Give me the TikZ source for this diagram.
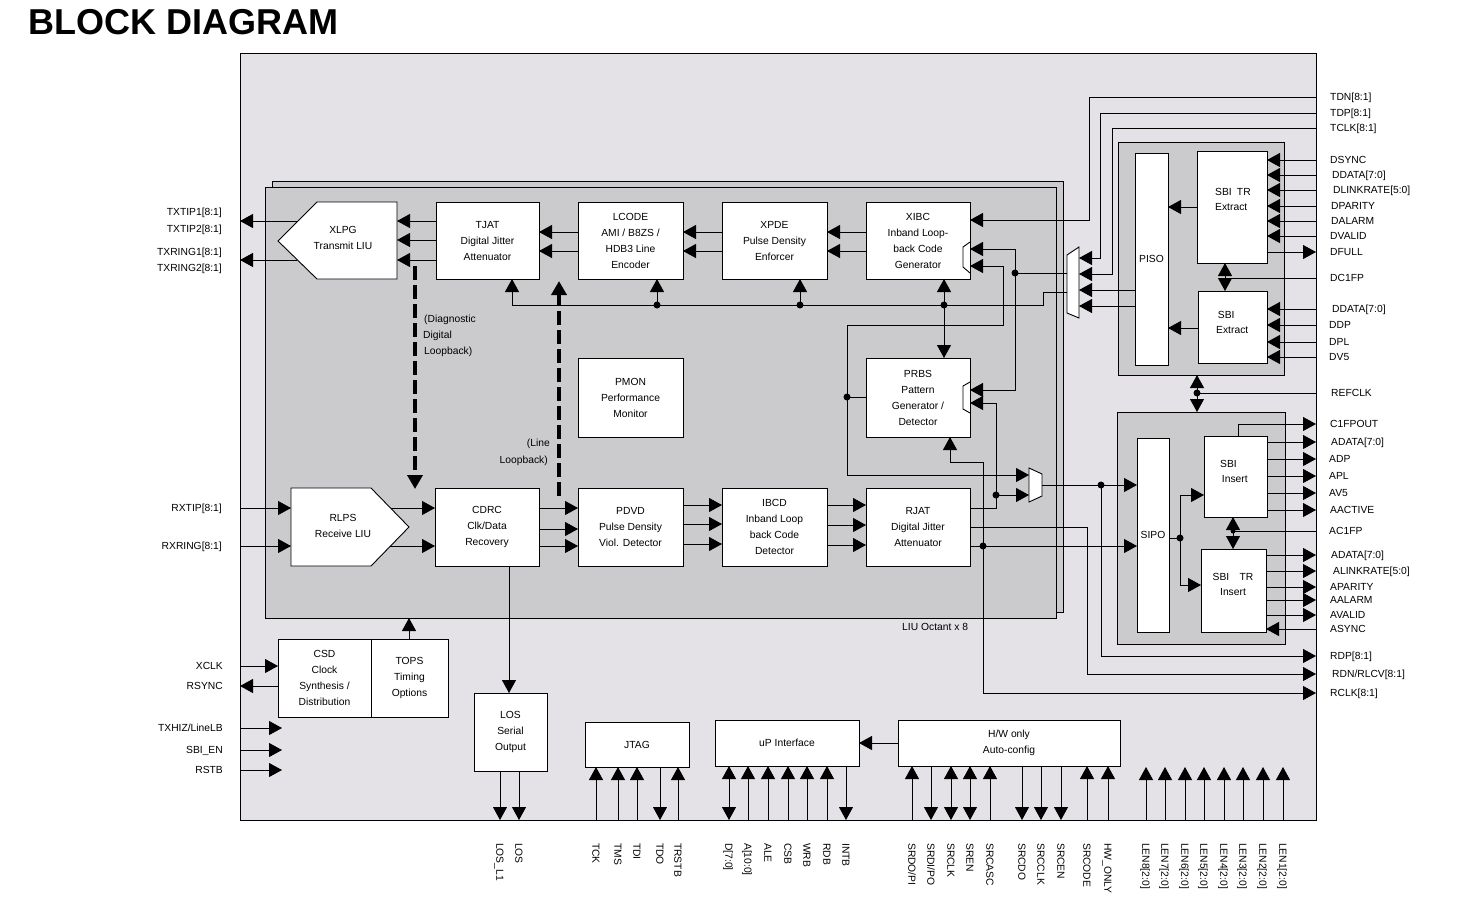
\documentclass[tikz,border=0pt]{standalone}
\usepackage{fontspec}
\setmainfont{Liberation Sans}
\usetikzlibrary{arrows.meta}
\definecolor{chipgray}{RGB}{228,226,230}
\definecolor{octgray}{RGB}{203,203,205}
\newcommand{\blkfont}{\fontsize{10.3}{16}\selectfont}
\newcommand{\sbifont}{\fontsize{10.3}{15}\selectfont}
\tikzset{
  blk/.style={draw, fill=white, line width=0.9pt, inner sep=0pt, outer sep=0pt,
    align=center, font=\blkfont, anchor=north west},
  grp/.style={draw, fill=octgray, line width=0.9pt, inner sep=0pt, outer sep=0pt, anchor=north west},
  pin/.style={font=\blkfont, inner sep=0pt, text height=9.2pt, text depth=2pt},
  lpin/.style={pin, anchor=east},
  rpin/.style={pin, anchor=west},
  bpin/.style={pin, rotate=-90, anchor=west},
  sig/.style={line width=0.9pt},
  arr/.style={sig, -{Triangle[length=13pt,width=14pt]}},
  biarr/.style={sig, {Triangle[length=13pt,width=14pt]}-{Triangle[length=13pt,width=14pt]}},
  lpbk/.style={line width=3.5pt, dash pattern=on 14pt off 5pt, -{Triangle[length=14pt,width=15pt]}},
  dot/.style={circle, fill, inner sep=0pt, minimum size=7pt},
}
\begin{document}
\begin{tikzpicture}[x=1pt, y=-1pt]
      \useasboundingbox (0,0) rectangle (1463,922);
      \node[font=\fontsize{36}{40}\selectfont\bfseries, anchor=west, inner sep=0pt] (title) at (28,22) {BLOCK DIAGRAM};
      %
      \node[grp, fill=chipgray, minimum width=1076pt, minimum height=767pt] (chip) at (240,53) {};   % chip outline
      \node[grp, minimum width=791pt, minimum height=431pt] (octb) at (272,181) {};   % octant stack
      \node[grp, minimum width=791pt, minimum height=431pt] (oct) at (265,187) {};
      \node[pin, anchor=west] (octlbl) at (902,627) {LIU Octant x 8};
      \node[grp, minimum width=166pt, minimum height=233pt] (sbixg) at (1118,142) {};   % SBI extract group
      \node[grp, minimum width=168pt, minimum height=232pt] (sbiig) at (1117,412) {};   % SBI insert group
      %
      % transmit row
      \draw[line width=0.9pt, fill=white] (278,241) -- (317,202) -- (397,202) -- (397,279) -- (317,279) -- cycle;
      \node[align=center, font=\blkfont] (xlpg) at (343,238) {XLPG\\Transmit LIU};
      \coordinate (xlpgE) at (397,240);
      \coordinate (xlpgT) at (298,221);
      \coordinate (xlpgR) at (297,260);
      \node[blk, minimum width=103pt, minimum height=77pt] (tjat) at (436,202) {TJAT\\Digital Jitter\\Attenuator};
      \node[blk, minimum width=105pt, minimum height=77pt] (lcode) at (578,202) {LCODE\\AMI / B8ZS /\\HDB3 Line\\Encoder};
      \node[blk, minimum width=105pt, minimum height=77pt] (xpde) at (722,202) {XPDE\\Pulse Density\\Enforcer};
      \node[blk, minimum width=104pt, minimum height=77pt] (xibc) at (866,202) {XIBC\\Inband Loop-\\back Code\\Generator};
      \node[blk, minimum width=105pt, minimum height=79pt] (pmon) at (578,358) {PMON\\Performance\\Monitor};
      \node[blk, minimum width=104pt, minimum height=79pt] (prbs) at (866,358) {PRBS\\Pattern\\Generator /\\Detector};
      \draw[sig] (970,242) -- (963,247) -- (963,267) -- (970,273);   % input selects
      \draw[sig] (970,382) -- (963,386) -- (963,409) -- (970,413);
      %
      % receive row
      \draw[line width=0.9pt, fill=white] (291,488) -- (371,488) -- (409,527) -- (371,566) -- (291,566) -- cycle;
      \node[align=center, font=\blkfont] (rlps) at (343,526) {RLPS\\Receive LIU};
      \coordinate (rlpsW) at (291,527);
      \coordinate (rlpsT) at (391,508);
      \coordinate (rlpsR) at (390,546);
      \node[blk, minimum width=104pt, minimum height=78pt] (cdrc) at (435,488) {CDRC\\Clk/Data\\Recovery};
      \node[blk, minimum width=105pt, minimum height=78pt] (pdvd) at (578,488) {PDVD\\Pulse Density\\Viol. Detector};
      \node[blk, minimum width=105pt, minimum height=78pt] (ibcd) at (722,488) {IBCD\\Inband Loop\\back Code\\Detector};
      \node[blk, minimum width=104pt, minimum height=78pt] (rjat) at (866,488) {RJAT\\Digital Jitter\\Attenuator};
      %
      % lower blocks
      \node[blk, minimum width=93pt, minimum height=78pt] (csd) at (278,639) {CSD\\Clock\\Synthesis /\\Distribution};
      \node[blk, minimum width=77pt, minimum height=78pt] (tops) at (371,639) {TOPS\\Timing\\Options};
      \node[blk, minimum width=73pt, minimum height=78pt] (los) at (474,693) {LOS\\Serial\\Output};
      \node[blk, minimum width=104pt, minimum height=45pt] (jtag) at (585,722) {JTAG};
      \node[blk, minimum width=144pt, minimum height=46pt] (upif) at (715,720) {uP Interface};
      \node[blk, minimum width=222pt, minimum height=46pt] (hwcfg) at (898,720) {H/W only\\Auto-config};
      %
      % SBI blocks
      \node[blk, minimum width=33pt, minimum height=212pt] (piso) at (1135,153) {PISO};
      \node[blk, minimum width=70pt, minimum height=112pt] (sbitrx) at (1197,151) {};
      \node[align=left, font=\sbifont, anchor=west, inner sep=0pt] (sbitrxt) at (1215,199) {SBI\enspace TR\\Extract};
      \node[blk, minimum width=69pt, minimum height=72pt] (sbix) at (1198,291) {};
      \node[align=left, font=\sbifont, anchor=west, inner sep=0pt] (sbixt) at (1216,322) {\,SBI\\Extract};
      \node[blk, minimum width=32pt, minimum height=194pt] (sipo) at (1137,438) {SIPO};
      \node[blk, minimum width=63pt, minimum height=81pt] (sbii) at (1204,436) {};
      \node[align=left, font=\sbifont, anchor=west, inner sep=0pt] (sbiit) at (1220,471) {SBI\\\,Insert};
      \node[blk, minimum width=65pt, minimum height=83pt] (sbitri) at (1201,549) {};
      \node[align=center, font=\sbifont, inner sep=0pt] (sbitrit) at (1233,584) {SBI\quad TR\\Insert};
      %
      % muxes
      \draw[line width=0.9pt, fill=white] (1067,255) -- (1079,247) -- (1079,318) -- (1067,313) -- cycle;
      \coordinate (muxaW) at (1067,285);
      \coordinate (muxaE) at (1079,285);
      \draw[line width=0.9pt, fill=white] (1029,468) -- (1042,474) -- (1042,496) -- (1029,502) -- cycle;
      \coordinate (muxbW) at (1029,485);
      \coordinate (muxbE) at (1042,485);
      %
      % left pins
      \node[lpin] (txtip1) at (222,212) {TXTIP1[8:1]};
      \node[lpin] (txtip2) at (222,229) {TXTIP2[8:1]};
      \node[lpin] (txring1) at (222,252) {TXRING1[8:1]};
      \node[lpin] (txring2) at (222,268) {TXRING2[8:1]};
      \node[lpin] (rxtip) at (222,508) {RXTIP[8:1]};
      \node[lpin] (rxring) at (222,546) {RXRING[8:1]};
      \node[lpin] (xclk) at (223,666) {XCLK};
      \node[lpin] (rsync) at (223,686) {RSYNC};
      \node[lpin] (txhiz) at (223,728) {TXHIZ/LineLB};
      \node[lpin] (sbien) at (223,750) {SBI\_EN};
      \node[lpin] (rstb) at (223,770) {RSTB};
      %
      % right pins
      \node[rpin] (tdn) at (1330,97) {TDN[8:1]};
      \node[rpin] (tdp) at (1330,113) {TDP[8:1]};
      \node[rpin] (tclk) at (1330,128) {TCLK[8:1]};
      \node[rpin] (dsync) at (1330,160) {DSYNC};
      \node[rpin] (ddata) at (1332,175) {DDATA[7:0]};
      \node[rpin] (dlink) at (1333,190) {DLINKRATE[5:0]};
      \node[rpin] (dpar) at (1331,206) {DPARITY};
      \node[rpin] (dalarm) at (1331,221) {DALARM};
      \node[rpin] (dvalid) at (1330,236) {DVALID};
      \node[rpin] (dfull) at (1330,252) {DFULL};
      \node[rpin] (dc1fp) at (1330,278) {DC1FP};
      \node[rpin] (ddatab) at (1332,309) {DDATA[7:0]};
      \node[rpin] (ddp) at (1329,325) {DDP};
      \node[rpin] (dpl) at (1329,342) {DPL};
      \node[rpin] (dv5) at (1329,357) {DV5};
      \node[rpin] (refclk) at (1331,393) {REFCLK};
      \node[rpin] (c1fpout) at (1330,424) {C1FPOUT};
      \node[rpin] (adata) at (1331,442) {ADATA[7:0]};
      \node[rpin] (adp) at (1329,459) {ADP};
      \node[rpin] (apl) at (1329,476) {APL};
      \node[rpin] (av5) at (1329,493) {AV5};
      \node[rpin] (aactive) at (1330,510) {AACTIVE};
      \node[rpin] (ac1fp) at (1329,531) {AC1FP};
      \node[rpin] (adatab) at (1331,555) {ADATA[7:0]};
      \node[rpin] (alink) at (1333,571) {ALINKRATE[5:0]};
      \node[rpin] (apar) at (1330,587) {APARITY};
      \node[rpin] (aalarm) at (1330,600) {AALARM};
      \node[rpin] (avalid) at (1330,615) {AVALID};
      \node[rpin] (async) at (1330,629) {ASYNC};
      \node[rpin] (rdp) at (1330,656) {RDP[8:1]};
      \node[rpin] (rdn) at (1332,674) {RDN/RLCV[8:1]};
      \node[rpin] (rclk) at (1330,693) {RCLK[8:1]};
      %
      % bottom pins
      \node[bpin] (losl1) at (500,843) {LOS\_L1};
      \node[bpin] (losp) at (519,843) {LOS};
      \node[bpin] (tck) at (596,843) {TCK};
      \node[bpin] (tms) at (618,843) {TMS};
      \node[bpin] (tdi) at (637,843) {TDI};
      \node[bpin] (tdo) at (660,843) {TDO};
      \node[bpin] (trstb) at (678,843) {TRSTB};
      \node[bpin] (dbus) at (729,843) {D[7:0]};
      \node[bpin] (abus) at (748,843) {A[10:0]};
      \node[bpin] (ale) at (768,843) {ALE};
      \node[bpin] (csb) at (788,843) {CSB};
      \node[bpin] (wrb) at (807,843) {WRB};
      \node[bpin] (rdb) at (827,843) {RDB};
      \node[bpin] (intb) at (846,843) {INTB};
      \node[bpin] (srdopi) at (912,843) {SRDO/PI};
      \node[bpin] (srdipo) at (931,843) {SRDI/PO};
      \node[bpin] (srclk) at (951,843) {SRCLK};
      \node[bpin] (sren) at (970,843) {SREN};
      \node[bpin] (srcasc) at (990,843) {SRCASC};
      \node[bpin] (srcdo) at (1022,843) {SRCDO};
      \node[bpin] (srcclk) at (1041,843) {SRCCLK};
      \node[bpin] (srcen) at (1061,843) {SRCEN};
      \node[bpin] (srcode) at (1087,843) {SRCODE};
      \node[bpin] (hwonly) at (1108,843) {HW\_ONLY};
      \node[bpin] (len8) at (1146,843) {LEN8[2:0]};
      \node[bpin] (len7) at (1165,843) {LEN7[2:0]};
      \node[bpin] (len6) at (1185,843) {LEN6[2:0]};
      \node[bpin] (len5) at (1204,843) {LEN5[2:0]};
      \node[bpin] (len4) at (1224,843) {LEN4[2:0]};
      \node[bpin] (len3) at (1243,843) {LEN3[2:0]};
      \node[bpin] (len2) at (1263,843) {LEN2[2:0]};
      \node[bpin] (len1) at (1283,843) {LEN1[2:0]};
      %
      % transmit path
      \draw[arr] (xlpgT) -- (chip.west |- xlpgT);
      \draw[arr] (xlpgR) -- (chip.west |- xlpgR);
      \draw[arr] (tjat.west |- 0,221) -- (xlpgE |- 0,221);
      \draw[arr] (tjat.west |- 0,240) -- (xlpgE |- 0,240);
      \draw[arr] (tjat.west |- 0,260) -- (xlpgE |- 0,260);
      \draw[arr] (lcode.west |- 0,232) -- (tjat.east |- 0,232);
      \draw[arr] (lcode.west |- 0,251) -- (tjat.east |- 0,251);
      \draw[arr] (xpde.west |- 0,232) -- (lcode.east |- 0,232);
      \draw[arr] (xpde.west |- 0,251) -- (lcode.east |- 0,251);
      \draw[arr] (xibc.west |- 0,232) -- (xpde.east |- 0,232);
      \draw[arr] (xibc.west |- 0,251) -- (xpde.east |- 0,251);
      \draw[arr] (chip.east |- tdn) -| (1089,220) -- (xibc.east |- 0,220);
      \draw[arr] (chip.east |- tdp) -| (1100,258) -- (muxaE |- 0,258);
      \draw[arr] (chip.east |- tclk) -| (1112,274) -- (muxaE |- 0,274);
      \draw[arr] (piso.west |- 0,290) -- (muxaE |- 0,290);
      \draw[arr] (piso.west |- 0,306) -- (muxaE |- 0,306);
      %
      % mux outputs and control bus
      \node[dot] (ja) at (1015,273) {};
      \draw[sig] (muxaW |- ja) -- (ja.center);
      \draw[arr] (ja.center) |- (xibc.east |- 0,249);
      \draw[arr] (ja.center) |- (prbs.east |- 0,390);
      \draw[arr] (muxaW |- 0,292) -| (1043,305) -| (tjat.south -| 512,0);
      \node[dot] (jb) at (657,305) {};
      \node[dot] (jc) at (800,305) {};
      \node[dot] (jd) at (944,305) {};
      \draw[arr] (jb.center) -- (lcode.south -| jb);
      \draw[arr] (jc.center) -- (xpde.south -| jc);
      \draw[biarr] (xibc.south -| jd) -- (prbs.north -| jd);
      %
      % PRBS loops
      \node[dot] (je) at (847,397) {};
      \draw[sig] (prbs.west |- je) -- (je.center);
      \draw[arr] (je.center) |- (1003,325) |- (xibc.east |- 0,266);
      \draw[arr] (je.center) |- (muxbW |- 0,475);
      \node[dot] (jf) at (996,495) {};
      \draw[arr] (rjat.east |- 0,508) -| (jf.center) |- (prbs.east |- 0,403);
      \draw[arr] (jf.center) -- (muxbW |- jf);
      \node[dot] (jg) at (983,546) {};
      \draw[arr] (jg.center) |- (950,462) -- (prbs.south -| 950,0);
      \draw[arr] (rjat.east |- jg) -- (sipo.west |- jg);
      \draw[arr] (jg.center) |- (chip.east |- rclk);
      \draw[arr] (rjat.east |- 0,527) -| (1087,600) |- (chip.east |- rdn);
      \node[dot] (jh) at (1101,485) {};
      \draw[arr] (muxbE) -- (sipo.west |- muxbE);
      \draw[arr] (jh.center) |- (chip.east |- rdp);
      %
      % receive path
      \draw[arr] (chip.west |- rxtip) -- (rlpsW |- rxtip);
      \draw[arr] (chip.west |- rxring) -- (rlpsW |- rxring);
      \draw[arr] (rlpsT) -- (cdrc.west |- rlpsT);
      \draw[arr] (rlpsR) -- (cdrc.west |- rlpsR);
      \draw[arr] (cdrc.east |- 0,508) -- (pdvd.west |- 0,508);
      \draw[arr] (cdrc.east |- 0,529) -- (pdvd.west |- 0,529);
      \draw[arr] (cdrc.east |- 0,546) -- (pdvd.west |- 0,546);
      \draw[arr] (pdvd.east |- 0,505) -- (ibcd.west |- 0,505);
      \draw[arr] (pdvd.east |- 0,524) -- (ibcd.west |- 0,524);
      \draw[arr] (pdvd.east |- 0,544) -- (ibcd.west |- 0,544);
      \draw[arr] (ibcd.east |- 0,505) -- (rjat.west |- 0,505);
      \draw[arr] (ibcd.east |- 0,525) -- (rjat.west |- 0,525);
      \draw[arr] (ibcd.east |- 0,545) -- (rjat.west |- 0,545);
      %
      % loopbacks
      \draw[lpbk] (415,266) -- (415,489);   % diagnostic
      \draw[lpbk] (559,496) -- (559,281);   % line
      \node[pin, anchor=west] (dlb1) at (424,319) {(Diagnostic};
      \node[pin, anchor=west] (dlb2) at (423,335) {Digital};
      \node[pin, anchor=west] (dlb3) at (424,351) {Loopback)};
      \node[pin, anchor=east] (llb1) at (550,443) {(Line};
      \node[pin, anchor=east] (llb2) at (548,460) {Loopback)};
      %
      % clocks, LOS, misc
      \draw[arr] (cdrc.south -| 509,0) -- (los.north -| 509,0);
      \draw[arr] (los.south -| losl1) -- (chip.south -| losl1);
      \draw[arr] (los.south -| losp) -- (chip.south -| losp);
      \draw[arr] (tops.north -| 409,0) -- (oct.south -| 409,0);
      \draw[arr] (chip.west |- xclk) -- (csd.west |- xclk);
      \draw[arr] (csd.west |- rsync) -- (chip.west |- rsync);
      \draw[arr] (chip.west |- txhiz) -- ++(42,0) coordinate (txhizE);
      \draw[arr] (chip.west |- sbien) -- ++(42,0) coordinate (sbienE);
      \draw[arr] (chip.west |- rstb) -- ++(42,0) coordinate (rstbE);
      %
      % JTAG and uP
      \draw[arr] (chip.south -| tck) -- (jtag.south -| tck);
      \draw[arr] (chip.south -| tms) -- (jtag.south -| tms);
      \draw[arr] (chip.south -| tdi) -- (jtag.south -| tdi);
      \draw[arr] (jtag.south -| tdo) -- (chip.south -| tdo);
      \draw[arr] (chip.south -| trstb) -- (jtag.south -| trstb);
      \draw[biarr] (upif.south -| dbus) -- (chip.south -| dbus);
      \draw[arr] (chip.south -| abus) -- (upif.south -| abus);
      \draw[arr] (chip.south -| ale) -- (upif.south -| ale);
      \draw[arr] (chip.south -| csb) -- (upif.south -| csb);
      \draw[arr] (chip.south -| wrb) -- (upif.south -| wrb);
      \draw[arr] (chip.south -| rdb) -- (upif.south -| rdb);
      \draw[arr] (upif.south -| intb) -- (chip.south -| intb);
      \draw[arr] (hwcfg.west |- 0,743) -- (upif.east |- 0,743);
      %
      % H/W config
      \draw[arr] (chip.south -| srdopi) -- (hwcfg.south -| srdopi);
      \draw[arr] (hwcfg.south -| srdipo) -- (chip.south -| srdipo);
      \draw[biarr] (hwcfg.south -| srclk) -- (chip.south -| srclk);
      \draw[biarr] (hwcfg.south -| sren) -- (chip.south -| sren);
      \draw[arr] (chip.south -| srcasc) -- (hwcfg.south -| srcasc);
      \draw[arr] (hwcfg.south -| srcdo) -- (chip.south -| srcdo);
      \draw[arr] (hwcfg.south -| srcclk) -- (chip.south -| srcclk);
      \draw[arr] (hwcfg.south -| srcen) -- (chip.south -| srcen);
      \draw[arr] (chip.south -| srcode) -- (hwcfg.south -| srcode);
      \draw[arr] (chip.south -| hwonly) -- (hwcfg.south -| hwonly);
      \foreach \n in {len8,len7,len6,len5,len4,len3,len2,len1}
        \draw[arr] (chip.south -| \n) -- ++(0,-53);
      %
      % SBI extract side
      \draw[arr] (chip.east |- dsync) -- (sbitrx.east |- dsync);
      \draw[arr] (chip.east |- ddata) -- (sbitrx.east |- ddata);
      \draw[arr] (chip.east |- dlink) -- (sbitrx.east |- dlink);
      \draw[arr] (chip.east |- dpar) -- (sbitrx.east |- dpar);
      \draw[arr] (chip.east |- dalarm) -- (sbitrx.east |- dalarm);
      \draw[arr] (chip.east |- dvalid) -- (sbitrx.east |- dvalid);
      \draw[arr] (sbitrx.east |- dfull) -- (chip.east |- dfull);
      \coordinate (jdc) at (1225,278);
      \draw[sig] (chip.east |- dc1fp) -- (jdc);
      \draw[arr] (jdc) -- (sbitrx.south -| jdc);
      \draw[arr] (jdc) -- (sbix.north -| jdc);
      \draw[arr] (chip.east |- ddatab) -- (sbix.east |- ddatab);
      \draw[arr] (chip.east |- ddp) -- (sbix.east |- ddp);
      \draw[arr] (chip.east |- dpl) -- (sbix.east |- dpl);
      \draw[arr] (chip.east |- dv5) -- (sbix.east |- dv5);
      \draw[arr] (sbitrx.west |- 0,207) -- (piso.east |- 0,207);
      \draw[arr] (sbix.west |- 0,328) -- (piso.east |- 0,328);
      \node[dot] (jr) at (1197,393) {};
      \draw[sig] (chip.east |- refclk) -- (jr.center);
      \draw[arr] (jr.center) -- (sbixg.south -| jr);
      \draw[arr] (jr.center) -- (sbiig.north -| jr);
      %
      % SBI insert side
      \draw[arr] (sbii.north -| 1238,0) |- (chip.east |- c1fpout);
      \draw[arr] (sbii.east |- adata) -- (chip.east |- adata);
      \draw[arr] (sbii.east |- adp) -- (chip.east |- adp);
      \draw[arr] (sbii.east |- apl) -- (chip.east |- apl);
      \draw[arr] (sbii.east |- av5) -- (chip.east |- av5);
      \draw[arr] (sbii.east |- aactive) -- (chip.east |- aactive);
      \node[dot, minimum size=5pt] (jac) at (1233,531) {};
      \draw[sig] (chip.east |- ac1fp) -- (jac.center);
      \draw[arr] (jac.center) -- (sbii.south -| jac);
      \draw[arr] (jac.center) -- (sbitri.north -| jac);
      \draw[arr] (sbitri.east |- adatab) -- (chip.east |- adatab);
      \draw[arr] (sbitri.east |- alink) -- (chip.east |- alink);
      \draw[arr] (sbitri.east |- apar) -- (chip.east |- apar);
      \draw[arr] (sbitri.east |- aalarm) -- (chip.east |- aalarm);
      \draw[arr] (sbitri.east |- avalid) -- (chip.east |- avalid);
      \draw[arr] (chip.east |- async) -- (sbitri.east |- async);
      \node[dot] (js) at (1180,538) {};
      \draw[sig] (sipo.east |- js) -- (js.center);
      \draw[arr] (js.center) |- (sbii.west |- 0,495);
      \draw[arr] (js.center) |- (sbitri.west |- 0,585);
      %
    \end{tikzpicture}
\end{document}
